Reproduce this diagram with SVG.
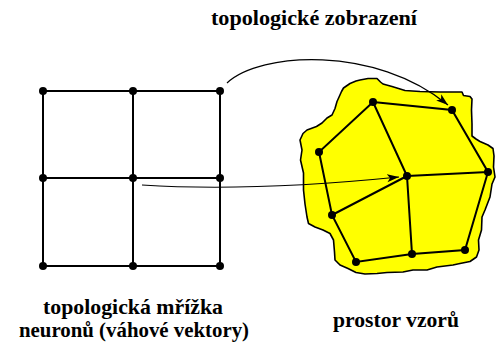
<svg xmlns="http://www.w3.org/2000/svg" width="499" height="349" viewBox="0 0 499 349">
  <style>
    .lbl { font-family: "Liberation Serif", "Times New Roman", serif; font-weight: bold; font-size: 21px; fill: #000; text-anchor: middle; }
    .edge { stroke: #000; stroke-width: 2; fill: none; stroke-linecap: round; }
    .arrow { stroke: #000; stroke-width: 1.2; fill: none; }
    .dot { fill: #000; }
    .region { fill: #ffff00; stroke: #000; stroke-width: 1.6; stroke-linejoin: round; }
  </style>
  <defs>
    <marker id="head" markerUnits="userSpaceOnUse" markerWidth="14" markerHeight="10" refX="12" refY="4" orient="auto">
      <path d="M0,0 L12,4 L0,8 L3,4 Z" fill="#000"/>
    </marker>
  </defs>

  <rect width="499" height="349" fill="#fff"/>

  <!-- pattern space (yellow region) -->
  <g id="pattern-space">
    <path class="region" d="M339.5,96 L341.5,91.5 343.5,88 350,83.5 356,81 360,80 368,78.5 377,78.5 380.5,82 383,84 392,86.5 405,90.5 420,91.5 440,92 462,92 463.5,95.5 470,96.5 472,99 471.5,110 472,124 472,136 476,139 480,141.5 488,145 493,148.5 494,156 493.5,167 495,177 492,184 490,197 485,210 482,217 481.5,230 478.5,240 479,250 476.5,257 470,261.5 460,263.5 453,265 437,267 427,270 413,270 403,272 387,272.5 377,273.5 365,274 356,272.5 348,268.5 340,265 335,260 334.5,252 333.5,240 330,233.5 323,230 315,227 308.5,223.5 307,217 305,204 303.5,190 303.5,180 303.5,173 300.5,160 302,150 300,140 303,133.5 307,130 316.5,126.5 322,123 327,118 332,115 335,108.5 337,101.5 Z"/>
  </g>

  <g id="connectors">
    <!-- lattice edges -->
    <g id="grid-edges">
      <path class="edge" d="M43,91 H220 M43,178 H220 M43,266 H220 M43,91 V266 M133,91 V266 M220,91 V266"/>
    </g>
    <!-- mapped lattice edges -->
    <g id="map-edges">
      <path class="edge" d="M373,102 L452,110 L488,172 L465,250 L412,254 L356,262 L332,215 L319,152 Z M373,102 L407,176 M407,176 L488,172 M407,176 L412,254 M407,176 L332,215"/>
    </g>
    <!-- mapping arrows -->
    <path id="arrow-top" class="arrow" d="M227,83 C260,52 375,45 448,105" marker-end="url(#head)"/>
    <path id="arrow-center" class="arrow" d="M142,185 Q250,192 399,177" marker-end="url(#head)"/>
  </g>

  <!-- lattice neurons -->
  <g id="grid-nodes">
    <circle id="g00" class="dot" cx="43" cy="91" r="4"/>
    <circle id="g01" class="dot" cx="133" cy="91" r="4"/>
    <circle id="g02" class="dot" cx="220" cy="91" r="4"/>
    <circle id="g10" class="dot" cx="43" cy="178" r="4"/>
    <circle id="g11" class="dot" cx="133" cy="178" r="4"/>
    <circle id="g12" class="dot" cx="220" cy="178" r="4"/>
    <circle id="g20" class="dot" cx="43" cy="266" r="4"/>
    <circle id="g21" class="dot" cx="133" cy="266" r="4"/>
    <circle id="g22" class="dot" cx="220" cy="266" r="4"/>
  </g>

  <!-- weight vectors in pattern space -->
  <g id="map-nodes">
    <circle id="m-a" class="dot" cx="373" cy="102" r="4"/>
    <circle id="m-b" class="dot" cx="452" cy="110" r="4"/>
    <circle id="m-c" class="dot" cx="319" cy="152" r="4"/>
    <circle id="m-d" class="dot" cx="407" cy="176" r="4"/>
    <circle id="m-e" class="dot" cx="488" cy="172" r="4"/>
    <circle id="m-f" class="dot" cx="332" cy="215" r="4"/>
    <circle id="m-g" class="dot" cx="356" cy="262" r="4"/>
    <circle id="m-h" class="dot" cx="412" cy="254" r="4"/>
    <circle id="m-i" class="dot" cx="465" cy="250" r="4"/>
  </g>

  <g id="labels">
    <text id="label-map" class="lbl" x="314" y="25" textLength="206" lengthAdjust="spacingAndGlyphs">topologické zobrazení</text>
    <text id="label-grid" class="lbl" x="133" y="314" textLength="180" lengthAdjust="spacingAndGlyphs">topologická mřížka</text>
    <text id="label-grid2" class="lbl" x="134" y="337" textLength="230" lengthAdjust="spacingAndGlyphs">neuronů (váhové vektory)</text>
    <text id="label-space" class="lbl" x="396" y="327" textLength="126" lengthAdjust="spacingAndGlyphs">prostor vzorů</text>
  </g>
</svg>
